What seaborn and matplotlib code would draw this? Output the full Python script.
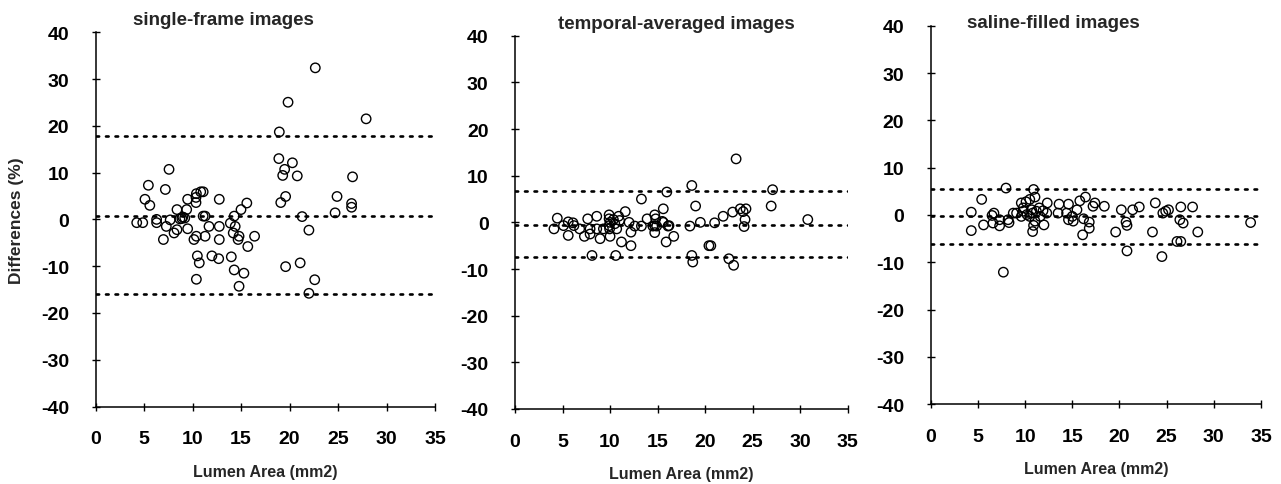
import matplotlib
matplotlib.use("Agg")
import matplotlib.pyplot as plt
import seaborn as sns
import pandas as pd

# ---------------- data ----------------
titles = ["single-frame images", "temporal-averaged images", "saline-filled images"]
x_label = "Lumen Area (mm2)"
y_label = "Differences (%)"
x_ticks = [0, 5, 10, 15, 20, 25, 30, 35]
y_ticks = [-40, -30, -20, -10, 0, 10, 20, 30, 40]

sf_x = [22.66, 19.85, 27.9, 18.95, 18.9, 20.3, 19.5, 19.3, 20.8, 26.5, 7.58, 5.45, 7.2,
        10.85, 11.1, 10.4, 5.1, 5.6, 9.5, 10.36, 10.36, 12.76, 15.6, 15.0, 19.1, 19.6, 24.9,
        26.4, 26.4, 24.7, 21.3, 22.0, 8.4, 9.4, 9.0, 8.9, 9.2, 11.1, 11.3, 14.3, 4.25, 4.87,
        6.3, 6.3, 7.7, 7.3, 8.4, 8.1, 9.5, 8.7, 7.0, 10.4, 10.15, 11.3, 11.7, 12.76, 12.76,
        13.9, 14.4, 14.2, 14.8, 14.7, 16.4, 15.7, 10.5, 10.7, 12.0, 12.7, 14.0, 14.3, 15.3,
        10.4, 14.8, 19.6, 21.1, 22.6, 22.0]
sf_y = [32.4, 25.05, 21.5, 18.7, 13.0, 12.1, 10.7, 9.4, 9.3, 9.1, 10.7, 7.3, 6.4,
        5.9, 5.9, 5.5, 4.3, 3.0, 4.3, 3.6, 4.7, 4.3, 3.5, 2.1, 3.6, 4.9, 4.9,
        3.4, 2.6, 1.4, 0.6, -2.3, 2.1, 2.1, 0.5, 0.2, 0.3, 0.7, 0.7, 0.7, -0.7, -0.7,
        0.0, -0.7, -0.1, -1.5, -2.2, -2.9, -2.0, 0.1, -4.3, -3.6, -4.3, -3.6, -1.5, -1.5, -4.3,
        -0.8, -1.5, -2.9, -3.6, -4.3, -3.6, -5.8, -7.8, -9.3, -7.8, -8.4, -8.0, -10.8, -11.5,
        -12.8, -14.3, -10.1, -9.3, -12.9, -15.8]
sf_lines = [17.8, 0.65, -15.9]

ta_x = [23.26, 18.6, 27.1, 15.97, 13.3, 19.0, 26.95, 15.6, 23.7, 24.3, 24.0, 22.9, 21.9,
        24.2, 24.1, 30.8, 19.5, 21.0, 18.4, 16.7, 15.9, 20.4, 20.6, 18.6, 18.7, 22.5, 23.0,
        8.1, 10.6, 11.2, 12.2, 5.6, 4.1, 4.45, 5.1, 5.6, 6.1, 6.2, 6.8, 7.3, 7.65, 7.9, 7.9,
        8.6, 8.6, 8.95, 9.3, 9.9, 9.9, 10.0, 9.9, 9.95, 10.0, 10.35, 10.5, 10.7, 10.9, 11.0,
        11.6, 12.0, 12.2, 12.6, 13.3, 13.9, 14.7, 14.8, 14.7, 14.9, 14.7, 15.6, 16.1, 14.5,
        15.5, 16.2]
ta_y = [13.6, 7.9, 7.0, 6.5, 5.0, 3.5, 3.5, 2.9, 2.9, 2.9, 2.3, 2.2, 1.3,
        0.6, -0.9, 0.6, 0.0, -0.1, -0.8, -3.0, -4.2, -5.0, -5.0, -7.1, -8.5, -7.8, -9.2,
        -7.1, -7.1, -4.2, -5.0, -2.8, -1.4, 0.9, -0.7, 0.1, -0.1, -0.7, -1.4, -3.0, 0.75, -1.4, -2.5,
        1.3, -1.4, -3.5, -1.4, 1.6, 0.75, 0.0, -0.7, -1.4, -3.0, 0.6, -0.3, -1.4, 1.3, 0.4,
        2.3, 0.0, -2.1, -0.8, -0.8, 0.75, 1.6, 0.75, -0.7, -0.8, -2.2, 0.0, -0.8, -0.8,
        0.2, -0.7]
ta_lines = [6.7, -0.5, -7.5]

sal_x = [7.98, 10.9, 5.4, 4.3, 4.3, 5.6, 6.5, 6.7, 6.6, 7.3, 7.3, 8.2, 8.3, 7.7, 8.75,
         9.1, 9.6, 9.8, 10.1, 10.5, 11.05, 10.8, 10.5, 11.05, 10.9, 10.8, 11.5, 11.9, 12.35,
         12.3, 12.0, 9.6, 9.8, 10.2, 10.7, 11.2, 11.6, 13.5, 13.6, 14.6, 14.4, 14.6, 15.1,
         15.5, 15.0, 15.8, 16.4, 16.2, 16.8, 16.8, 16.1, 17.2, 17.4, 18.4, 19.6, 20.2, 20.7,
         20.8, 20.8, 21.4, 22.1, 23.5, 23.8, 24.5, 24.6, 24.9, 25.2, 26.1, 26.5, 26.5, 26.4,
         26.75, 27.75, 28.3, 33.9]
sal_y = [5.7, 5.4, 3.3, 0.6, -3.3, -2.1, -0.1, 0.4, -1.7, -1.0, -2.3, -1.0, -1.6, -12.1, 0.4,
         0.4, -0.3, 1.5, 2.8, 3.3, 3.8, 0.4, -0.3, -1.3, -2.2, -3.5, 1.5, 0.9, 2.55,
         0.4, -2.1, 2.55, 0.8, 0.1, 1.1, 0.8, -0.3, 0.4, 2.3, 2.3, 0.4, -1.0, -1.3,
         1.1, -0.3, 3.0, 3.8, -0.8, -1.5, -2.8, -4.2, 1.85, 2.55, 1.85, -3.6, 1.1, -1.5,
         -2.2, -7.6, 1.1, 1.7, -3.6, 2.55, -8.8, 0.4, 0.8, 1.1, -5.6, -5.6, 1.7, -1.0,
         -1.7, 1.7, -3.6, -1.6]
sal_lines = [5.6, -0.3, -6.2]

# ---------------- style ----------------
sns.set_theme(style="ticks")
plt.rcParams["font.family"] = ["Liberation Sans", "DejaVu Sans"]
plt.rcParams["font.weight"] = "bold"

W, H = 1281, 485
fig = plt.figure(figsize=(W / 100, H / 100), dpi=100)

# axes rectangles in pixels: (x0 px, x35 px, y40 px, y-40 px)
rects_px = [(95.5, 435.0, 33.3, 407.5),
            (515.0, 847.7, 36.7, 410.0),
            (930.7, 1261.0, 27.0, 405.0)]
title_pos = [(0.11, 1.033), (0.129, 1.033), (0.11, 1.008)]

datasets = [(sf_x, sf_y, sf_lines), (ta_x, ta_y, ta_lines), (sal_x, sal_y, sal_lines)]

for i, ((xs, ys, lines), (x0, x1, yt, yb)) in enumerate(zip(datasets, rects_px)):
    ax = fig.add_axes([x0 / W, 1 - yb / H, (x1 - x0) / W, (yb - yt) / H])
    df = pd.DataFrame({"area": xs, "diff": ys})
    sns.scatterplot(data=df, x="area", y="diff", ax=ax, marker="o", s=46,
                    facecolor="none", edgecolor="black", linewidth=1.0, zorder=3)
    for v in lines:
        ax.axhline(v, color="black", lw=1.9, linestyle=(0, (1.0, 2.6)),
                   dash_capstyle="round", zorder=2)
    ax.set_xlim(0, 35)
    ax.set_ylim(-40, 40)
    ax.set_xticks(x_ticks)
    ax.set_yticks(y_ticks)
    ax.set_xticklabels([str(t) for t in x_ticks], fontsize=14, fontweight="bold")
    ax.set_yticklabels([str(t) for t in y_ticks], fontsize=14, fontweight="bold")
    for side in ["top", "right"]:
        ax.spines[side].set_visible(False)
    for side in ["left", "bottom"]:
        ax.spines[side].set_color("black")
        ax.spines[side].set_linewidth(1.1)
    ax.tick_params(axis="x", direction="inout", length=6, width=1.0,
                   colors="black", pad=14)
    ax.tick_params(axis="y", direction="inout", length=6, width=1.0,
                   colors="black", pad=16)
    ax.set_xlabel(x_label, fontsize=11.5, fontweight="bold", labelpad=12)
    if i == 0:
        ax.set_ylabel(y_label, fontsize=12.5, fontweight="bold", labelpad=12)
    else:
        ax.set_ylabel("")
    ax.text(title_pos[i][0], title_pos[i][1], titles[i], transform=ax.transAxes,
            ha="left", va="center", fontsize=13.5, fontweight="bold")
    ax.set_facecolor("white")
    ax.patch.set_alpha(0)

fig.savefig("out.png", dpi=100, facecolor="white")
